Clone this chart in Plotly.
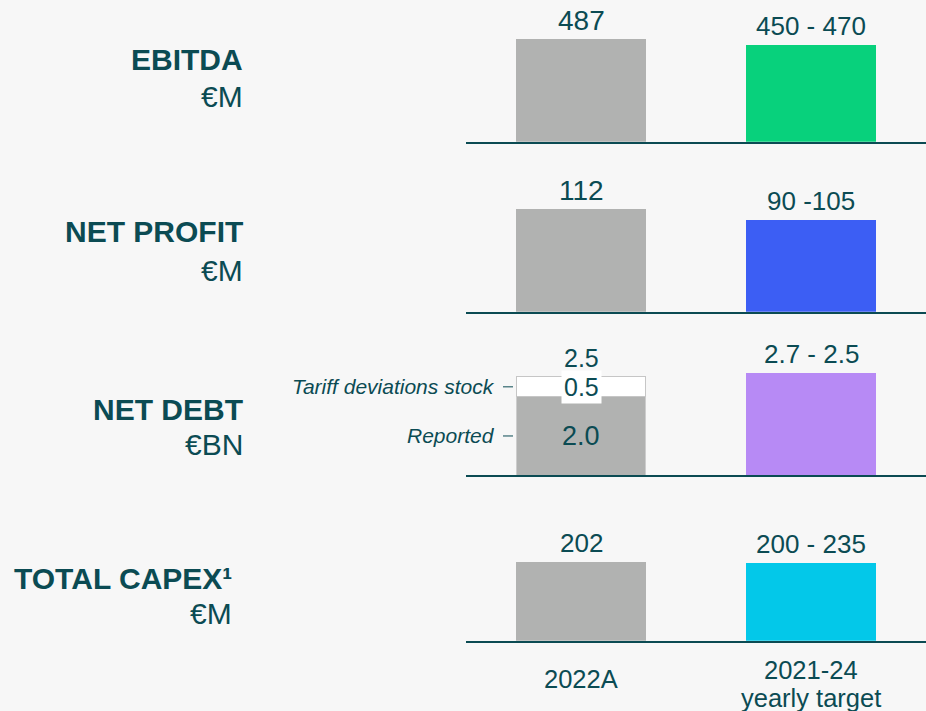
import plotly.graph_objects as go

# ---------------- data ----------------
categories = ["2022A", "2021-24 yearly target"]
category_lines = [["2022A"], ["2021-24", "yearly target"]]
metric_names = ["EBITDA", "NET PROFIT", "NET DEBT", "TOTAL CAPEX¹"]
metric_units = ["€M", "€M", "€BN", "€M"]
actual_values = [487, 112, 2.5, 202]
actual_labels = ["487", "112", "2.5", "202"]
target_values = [460, 100, 2.6, 200]
target_labels = ["450 - 470", "90 -105", "2.7 - 2.5", "200 - 235"]
net_debt_parts = [2.0, 0.5]
net_debt_part_labels = ["2.0", "0.5"]
net_debt_part_names = ["Reported", "Tariff deviations stock"]

# ---------------- style ----------------
W, H = 926, 711
BG = "#f7f7f7"
TEAL = "#0b4b53"
GREY = "#b1b2b1"
target_colors = ["#08d17c", "#3c5ef4", "#b78af5", "#03c8e9"]
FONT = "Liberation Sans, Arial, sans-serif"

baselines_px = [141.7, 311.7, 475.3, 640.7]
panel_h_px = 141
y_ranges = [668.6, 153.9, 3.586, 362.0]
x_left_px = 466
actual_font = [28, 28, 25, 26]

def py(p):
    return min(1.0, max(0.0, 1 - p / H))

fig = go.Figure()

for i in range(4):
    xa = "x" if i == 0 else f"x{i+1}"
    ya = "y" if i == 0 else f"y{i+1}"
    if i == 2:
        fig.add_trace(go.Bar(x=[categories[0]], y=[net_debt_parts[0]], marker=dict(color=GREY, line=dict(color="#cdcdcd", width=1)),
                             xaxis=xa, yaxis=ya, hoverinfo="skip"))
        fig.add_trace(go.Bar(x=[categories[0]], y=[net_debt_parts[1]], marker=dict(color="#ffffff", line=dict(color="#c6c6c6", width=1)),
                             xaxis=xa, yaxis=ya, hoverinfo="skip"))
    else:
        fig.add_trace(go.Bar(x=[categories[0]], y=[actual_values[i]], marker=dict(color=GREY, line=dict(width=0)),
                             xaxis=xa, yaxis=ya, hoverinfo="skip"))
    fig.add_trace(go.Bar(x=[categories[1]], y=[target_values[i]], marker=dict(color=target_colors[i], line=dict(width=0)),
                         xaxis=xa, yaxis=ya, hoverinfo="skip"))

layout = dict(
    width=W, height=H, margin=dict(l=0, r=0, t=0, b=0),
    paper_bgcolor=BG, plot_bgcolor=BG, showlegend=False,
    barmode="stack", bargap=0.435, hovermode=False,
    font=dict(family=FONT, color=TEAL),
)
for i in range(4):
    xk = "xaxis" if i == 0 else f"xaxis{i+1}"
    yk = "yaxis" if i == 0 else f"yaxis{i+1}"
    bottom = py(baselines_px[i])
    top = py(baselines_px[i] - panel_h_px)
    layout[xk] = dict(domain=[x_left_px / W, 1], showline=True, linecolor=TEAL, linewidth=2,
                      showgrid=False, zeroline=False, showticklabels=False, ticks="",
                      categoryorder="array", categoryarray=categories,
                      anchor="y" if i == 0 else f"y{i+1}", fixedrange=True)
    layout[yk] = dict(domain=[bottom, top], range=[0, y_ranges[i]], visible=False,
                      anchor="x" if i == 0 else f"x{i+1}", fixedrange=True)
fig.update_layout(**layout)

ann = []
# left metric names
name_center_px = [60, 232, 409.5, 578]
unit_center_px = [97, 270, 444, 613]
label_right_px = [245, 245, 245, 234]
for i in range(4):
    ann.append(dict(text=f"<b>{metric_names[i]}</b>", xref="paper", yref="paper",
                    x=label_right_px[i] / W, y=py(name_center_px[i]), xanchor="right", yanchor="middle",
                    showarrow=False, font=dict(size=30, color=TEAL, family=FONT)))
    ann.append(dict(text=metric_units[i], xref="paper", yref="paper",
                    x=label_right_px[i] / W, y=py(unit_center_px[i]), xanchor="right", yanchor="middle",
                    showarrow=False, font=dict(size=30, color=TEAL, family=FONT)))

# value labels
for i in range(4):
    xr = "x" if i == 0 else f"x{i+1}"
    yr = "y" if i == 0 else f"y{i+1}"
    ann.append(dict(text=actual_labels[i], xref=xr, yref=yr, x=categories[0], y=actual_values[i],
                    yanchor="middle", yshift=19, showarrow=False,
                    font=dict(size=actual_font[i], color=TEAL, family=FONT)))
    ann.append(dict(text=target_labels[i], xref=xr, yref=yr, x=categories[1], y=target_values[i],
                    yanchor="middle", yshift=19, showarrow=False,
                    font=dict(size=26, color=TEAL, family=FONT)))

# net debt breakdown
mids = [net_debt_parts[0] / 2, net_debt_parts[0] + net_debt_parts[1] / 2]
for k in range(2):
    a = dict(text=net_debt_part_labels[k], xref="x3", yref="y3", x=categories[0], y=mids[k],
             yanchor="middle", showarrow=False, borderpad=2,
             font=dict(size=27 if k == 0 else 25, color=TEAL, family=FONT))
    if k == 1:
        a["bgcolor"] = "#ffffff"
    ann.append(a)
    ann.append(dict(text=f"<i>{net_debt_part_names[k]}</i>", xref="paper", yref="y3",
                    x=497 / W, y=mids[k], xanchor="right", yanchor="middle", showarrow=False,
                    font=dict(size=21, color=TEAL, family=FONT)))
shapes = []
for k in range(2):
    shapes.append(dict(type="line", xref="paper", yref="y3", x0=503 / W, x1=513 / W,
                       y0=mids[k], y1=mids[k], line=dict(color=TEAL, width=1)))

# category labels
cat_centers_px = [[679], [670, 698]]
for c in range(2):
    for j, line in enumerate(category_lines[c]):
        ann.append(dict(text=line, xref="x4", yref="paper", x=categories[c], y=py(cat_centers_px[c][j]),
                        yanchor="middle", showarrow=False, font=dict(size=25.5, color=TEAL, family=FONT)))

fig.update_layout(annotations=ann, shapes=shapes)
fig.write_html("out.html", config={"displayModeBar": False},
               post_script="document.body.style.margin='0';document.body.style.background='%s';" % BG)
